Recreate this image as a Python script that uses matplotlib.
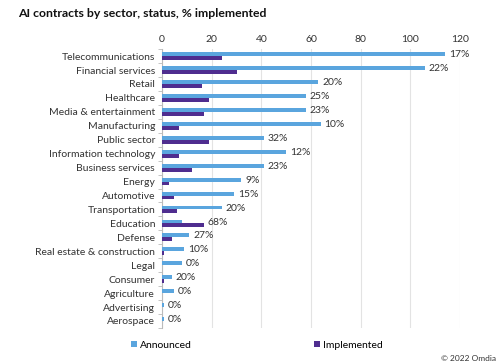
import matplotlib.pyplot as plt
import numpy as np

plt.rcParams['font.family'] = ['Lato', 'DejaVu Sans']

# data (top to bottom)
sectors = ["Telecommunications", "Financial services", "Retail", "Healthcare",
           "Media & entertainment", "Manufacturing", "Public sector",
           "Information technology", "Business services", "Energy", "Automotive",
           "Transportation", "Education", "Defense", "Real estate & construction",
           "Legal", "Consumer", "Agriculture", "Advertising", "Aerospace"]
announced = [114, 106, 63, 58, 58, 64, 41, 50, 41, 32, 29, 24, 8, 11, 9, 8, 4, 5, 1, 1]
implemented = [24, 30, 16, 19, 17, 7, 19, 7, 12, 3, 5, 6, 17, 4, 1, 0, 1, 0, 0, 0]
pct_labels = ["17%", "22%", "20%", "25%", "23%", "10%", "32%", "12%", "23%", "9%",
              "15%", "20%", "68%", "27%", "10%", "0%", "20%", "0%", "0%", "0%"]

c_ann = "#5aa5de"
c_imp = "#4f2d8f"

fig = plt.figure(figsize=(5, 3.64), dpi=100)
ax = fig.add_axes([0.324, 0.099, 0.596, 0.766])

y = np.arange(len(sectors))
h = 0.28
ax.barh(y - h / 2, announced, height=h, color=c_ann, label="Announced", zorder=3)
ax.barh(y + h / 2, implemented, height=h, color=c_imp, label="Implemented", zorder=3)

for i, lab in enumerate(pct_labels):
    xm = max(announced[i], implemented[i])
    ax.text(xm + 1.5, i - 0.1, lab, va="center", ha="left", fontsize=7.5, color="#333333")

ax.set_xlim(0, 120)
ax.set_ylim(len(sectors) - 0.5, -0.5)
ax.set_xticks(range(0, 121, 20))
ax.xaxis.tick_top()
ax.tick_params(axis="x", length=0, labelsize=7.5, colors="#333333", pad=4)
ax.set_yticks(y)
ax.set_yticklabels(sectors)
ax.tick_params(axis="y", labelsize=7.5, colors="#333333")
ax.set_yticks(np.arange(-0.5, len(sectors), 1), minor=True)
ax.tick_params(axis="y", which="major", length=0, pad=5)
ax.tick_params(axis="y", which="minor", length=3, color="#bbbbbb")
ax.grid(axis="x", color="#e3e3e3", linewidth=0.8, zorder=0)
for s in ["top", "right", "bottom"]:
    ax.spines[s].set_visible(False)
ax.spines["left"].set_color("#bbbbbb")

fig.text(0.036, 0.962, "AI contracts by sector, status, % implemented",
         fontsize=8.8, fontweight="bold", va="center", ha="left", color="#111111")

fig.legend(loc="center", bbox_to_anchor=(0.514, 0.052), ncol=2, frameon=False,
           fontsize=7.5, handlelength=0.6, handleheight=0.6, columnspacing=11.7,
           handletextpad=0.3)
fig.text(0.992, 0.014, "\u00a9 2022 Omdia", fontsize=6, ha="right", va="center",
         color="#333333")

fig.savefig("out.png", dpi=100)
